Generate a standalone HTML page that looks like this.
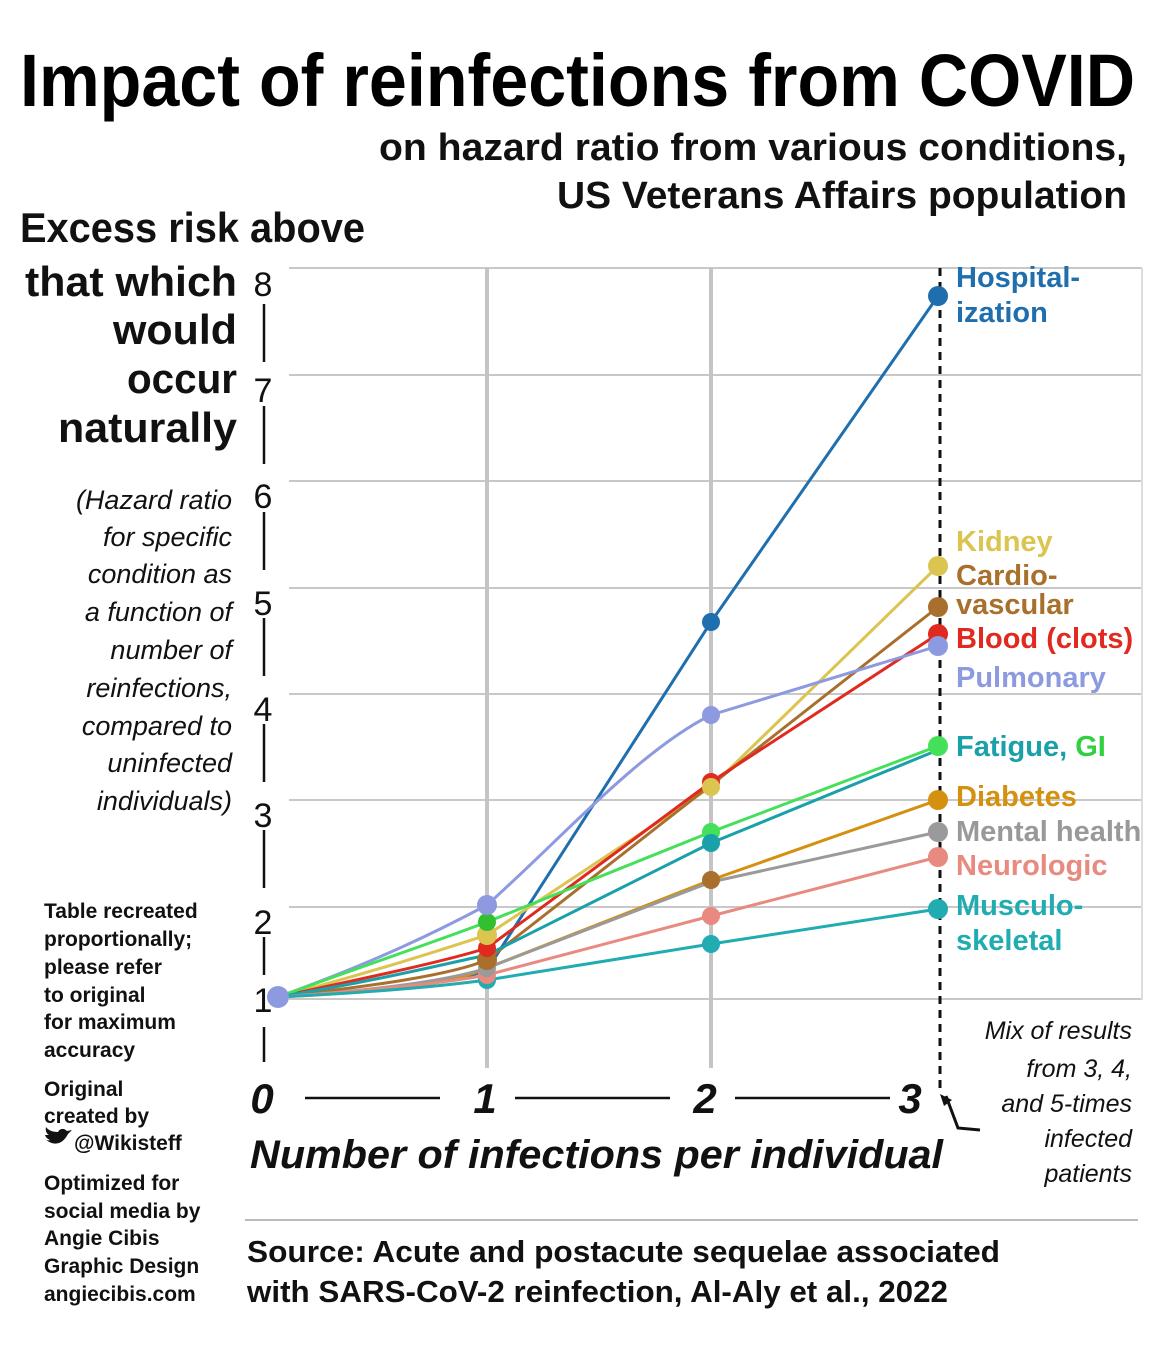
<!DOCTYPE html>
<html><head><meta charset="utf-8"><style>html,body{margin:0;padding:0;background:#fff}svg{display:block}</style></head><body>
<svg width="1167" height="1361" viewBox="0 0 1167 1361" xmlns="http://www.w3.org/2000/svg" font-family="Liberation Sans, sans-serif">
<text x="20" y="106" font-size="74" font-weight="bold" textLength="1115" lengthAdjust="spacingAndGlyphs">Impact of reinfections from COVID</text>
<text x="1127" y="160" font-size="38" font-weight="bold" text-anchor="end" textLength="748" lengthAdjust="spacingAndGlyphs" fill="#111">on hazard ratio from various conditions,</text>
<text x="1127" y="208" font-size="38" font-weight="bold" text-anchor="end" textLength="570" lengthAdjust="spacingAndGlyphs" fill="#111">US Veterans Affairs population</text>
<g font-size="42" font-weight="bold" fill="#111" text-anchor="end">
<text x="365" y="242" textLength="345" lengthAdjust="spacingAndGlyphs">Excess risk above</text>
<text x="237" y="296" textLength="212" lengthAdjust="spacingAndGlyphs">that which</text>
<text x="237" y="344" textLength="124" lengthAdjust="spacingAndGlyphs">would</text>
<text x="237" y="393" textLength="110" lengthAdjust="spacingAndGlyphs">occur</text>
<text x="237" y="442" textLength="179" lengthAdjust="spacingAndGlyphs">naturally</text>
</g>
<g font-size="27" font-style="italic" fill="#111" text-anchor="end">
<text x="232" y="509">(Hazard ratio</text><text x="232" y="546">for specific</text><text x="232" y="583">condition as</text><text x="232" y="621">a function of</text><text x="232" y="659">number of</text><text x="232" y="697">reinfections,</text><text x="232" y="735">compared to</text><text x="232" y="772">uninfected</text><text x="232" y="810">individuals)</text>
</g>
<g stroke="#c8c8c8" stroke-width="2">
<line x1="289" y1="268" x2="1142" y2="268"/><line x1="289" y1="375" x2="1142" y2="375"/><line x1="289" y1="481" x2="1142" y2="481"/><line x1="289" y1="588" x2="1142" y2="588"/><line x1="289" y1="694" x2="1142" y2="694"/><line x1="289" y1="800" x2="1142" y2="800"/><line x1="289" y1="907" x2="1142" y2="907"/><line x1="289" y1="999" x2="1142" y2="999"/>
</g>
<g stroke="#c4c4c4" stroke-width="4"><line x1="487" y1="268" x2="487" y2="1068"/><line x1="711" y1="268" x2="711" y2="1068"/></g>
<line x1="1142" y1="268" x2="1142" y2="1000" stroke="#ddd" stroke-width="2"/>
<g font-size="34" fill="#111" text-anchor="middle">
<text x="263" y="296">8</text><text x="263" y="402">7</text><text x="263" y="508">6</text><text x="263" y="615">5</text><text x="263" y="721">4</text><text x="263" y="827">3</text><text x="263" y="934">2</text><text x="263" y="1012">1</text>
</g>
<g stroke="#111" stroke-width="2.5">
<line x1="264" y1="304" x2="264" y2="362"/><line x1="264" y1="406" x2="264" y2="464"/><line x1="264" y1="512" x2="264" y2="570"/><line x1="264" y1="618" x2="264" y2="676"/><line x1="264" y1="724" x2="264" y2="782"/><line x1="264" y1="830" x2="264" y2="888"/><line x1="264" y1="937" x2="264" y2="975"/><line x1="264" y1="1027" x2="264" y2="1062"/>
</g>
<line x1="940" y1="268" x2="940" y2="1092" stroke="#111" stroke-width="3" stroke-dasharray="8,6"/>
<g fill="none" stroke-width="3">
<path d="M278 997 C380 990,450 985,487 970 L711 622 L938 296" stroke="#1f6fae"/>
<path d="M278 997 C380 970,440 950,487 935 L711 787 L938 566" stroke="#dcc450"/>
<path d="M278 997 C380 985,450 975,487 960 L711 785 L938 607" stroke="#a8702c"/>
<path d="M278 997 C380 975,450 960,487 948 L711 782 L938 634" stroke="#e02a20"/>
<path d="M278 997 C380 960,440 930,487 905 C560 840,640 750,711 715 L938 646" stroke="#8e9ae0"/>
<path d="M278 997 C380 960,440 940,487 922 L711 832 L938 746" stroke="#44e05a"/>
<path d="M278 997 C380 980,440 965,487 955 L711 843 L938 750" stroke="#1aa0a8"/>
<path d="M278 997 C380 992,450 985,487 968 L711 880 L938 800" stroke="#d4900f"/>
<path d="M278 997 C380 990,450 980,487 968 L711 882 L938 832" stroke="#9a9a9a"/>
<path d="M278 997 C380 990,450 982,487 975 L711 916 L938 857" stroke="#e88a80"/>
<path d="M278 997 C380 992,450 985,487 980 L711 944 L938 909" stroke="#20acb0"/>
</g>
<g>
<circle cx="487" cy="980" r="9" fill="#20acb0"/><circle cx="487" cy="975" r="9" fill="#e88a80"/><circle cx="487" cy="968" r="9" fill="#9a9a9a"/><circle cx="487" cy="960" r="10" fill="#a8702c"/><circle cx="487" cy="948" r="9" fill="#e02a20"/><circle cx="487" cy="935" r="10" fill="#dcc450"/><circle cx="487" cy="922" r="9" fill="#30c030"/><circle cx="487" cy="905" r="10" fill="#8e9ae0"/>
<circle cx="711" cy="622" r="9" fill="#1f6fae"/><circle cx="711" cy="715" r="9" fill="#8e9ae0"/><circle cx="711" cy="782" r="9" fill="#e02a20"/><circle cx="711" cy="787" r="9" fill="#dcc450"/><circle cx="711" cy="832" r="9" fill="#44e05a"/><circle cx="711" cy="843" r="9" fill="#1aa0a8"/><circle cx="711" cy="880" r="9" fill="#a8702c"/><circle cx="711" cy="916" r="9" fill="#e88a80"/><circle cx="711" cy="944" r="9" fill="#20acb0"/>
<circle cx="938" cy="296" r="10" fill="#1f6fae"/><circle cx="938" cy="566" r="10" fill="#dcc450"/><circle cx="938" cy="607" r="10" fill="#a8702c"/><circle cx="938" cy="634" r="10" fill="#e02a20"/><circle cx="938" cy="646" r="10" fill="#8e9ae0"/><circle cx="938" cy="746" r="10" fill="#44e05a"/><circle cx="938" cy="800" r="10" fill="#d4900f"/><circle cx="938" cy="832" r="10" fill="#9a9a9a"/><circle cx="938" cy="857" r="10" fill="#e88a80"/><circle cx="938" cy="909" r="10" fill="#20acb0"/>
<circle cx="278" cy="997" r="11" fill="#8e9ae0"/>
</g>
<g font-size="29" font-weight="bold">
<text x="956" y="287" fill="#1f6fae">Hospital-</text><text x="956" y="322" fill="#1f6fae">ization</text>
<text x="956" y="551" fill="#dcc450">Kidney</text>
<text x="956" y="585" fill="#a8702c">Cardio-</text><text x="956" y="614" fill="#a8702c">vascular</text>
<text x="956" y="648" fill="#e02a20">Blood (clots)</text>
<text x="956" y="687" fill="#8e9ae0">Pulmonary</text>
<text x="956" y="756" fill="#1aa0a8">Fatigue, <tspan fill="#30d040">GI</tspan></text>
<text x="956" y="806" fill="#d4900f">Diabetes</text>
<text x="956" y="841" fill="#999">Mental health</text>
<text x="956" y="875" fill="#e88a80">Neurologic</text>
<text x="956" y="915" fill="#20acb0">Musculo-</text><text x="956" y="950" fill="#20acb0">skeletal</text>
</g>
<g font-size="42" font-weight="bold" font-style="italic" fill="#111" text-anchor="middle">
<text x="262" y="1113">0</text><text x="485" y="1113">1</text><text x="705" y="1113">2</text><text x="910" y="1113">3</text>
</g>
<g stroke="#111" stroke-width="2.5"><line x1="305" y1="1098" x2="440" y2="1098"/><line x1="515" y1="1098" x2="670" y2="1098"/><line x1="735" y1="1098" x2="890" y2="1098"/></g>
<path d="M946 1096 L958 1128 L980 1130" fill="none" stroke="#111" stroke-width="3"/>
<path d="M940 1094 L952 1100 L944 1106 Z" fill="#111"/>
<text x="250" y="1168" font-size="40" font-weight="bold" font-style="italic" fill="#111" textLength="693" lengthAdjust="spacingAndGlyphs">Number of infections per individual</text>
<g font-size="25" font-style="italic" fill="#111" text-anchor="end">
<text x="1132" y="1039">Mix of results</text><text x="1132" y="1077">from 3, 4,</text><text x="1132" y="1112">and 5-times</text><text x="1132" y="1147">infected</text><text x="1132" y="1182">patients</text>
</g>
<line x1="245" y1="1220" x2="1138" y2="1220" stroke="#bbb" stroke-width="2"/>
<g font-size="31" font-weight="bold" fill="#111"><text x="247" y="1262" textLength="753" lengthAdjust="spacingAndGlyphs">Source: Acute and postacute sequelae associated</text><text x="247" y="1302" textLength="701" lengthAdjust="spacingAndGlyphs">with SARS-CoV-2 reinfection, Al-Aly et al., 2022</text></g>
<g font-size="21" font-weight="bold" fill="#111">
<text x="44" y="918">Table recreated</text><text x="44" y="946">proportionally;</text><text x="44" y="974">please refer</text><text x="44" y="1002">to original</text><text x="44" y="1029">for maximum</text><text x="44" y="1057">accuracy</text>
<text x="44" y="1096">Original</text><text x="44" y="1123">created by</text><text x="74" y="1150">@Wikisteff</text>
<text x="44" y="1190">Optimized for</text><text x="44" y="1218">social media by</text><text x="44" y="1245">Angie Cibis</text><text x="44" y="1273">Graphic Design</text><text x="44" y="1301">angiecibis.com</text>
</g>
<path d="M44 1138 C52 1146,62 1146,68 1134 L72 1130 L67 1131 C64 1128,60 1128,58 1132 C52 1132,48 1130,46 1127 C45 1131,47 1134,49 1135 C47 1135,46 1135,45 1135 C46 1138,48 1139,50 1140 C48 1141,46 1140,44 1138Z" fill="#111"/>
</svg>
</body></html>
